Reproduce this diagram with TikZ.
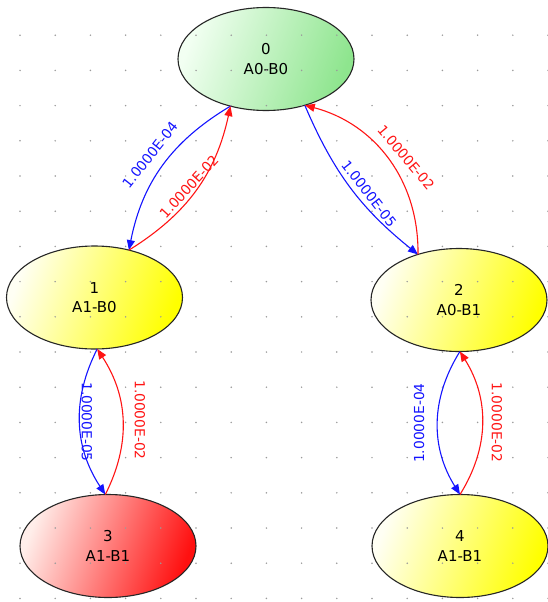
\documentclass[tikz,border=0pt]{standalone}
\usepackage{fontspec}
\setmainfont{DejaVu Sans}
\usetikzlibrary{shapes.geometric,arrows.meta}

\definecolor{stategreen}{HTML}{8EE58E}
\definecolor{stategreenlt}{HTML}{F2FFF2}
\definecolor{stateyellow}{HTML}{FFFF00}
\definecolor{stateyellowlt}{HTML}{FFFFF4}
\definecolor{statered}{HTML}{FF1010}
\definecolor{stateredlt}{HTML}{FFEEEA}
\definecolor{ratefail}{HTML}{1414FF}
\definecolor{raterepair}{HTML}{FF1414}
\definecolor{griddot}{HTML}{9A9A9A}

\tikzset{
  state/.style={ellipse, draw=black!85, line width=1.1pt, inner sep=0pt, outer sep=0pt,
    minimum width=176pt, minimum height=103pt, align=center,
    font=\fontsize{15}{19.5}\selectfont},
  okstate/.style={state, left color=stategreenlt, right color=stategreen, shading angle=70},
  warnstate/.style={state, left color=stateyellowlt, right color=stateyellow, shading angle=70},
  failstate/.style={state, left color=stateredlt, right color=statered, shading angle=70},
  failrate/.style={draw=ratefail, line width=1.1pt, -{Triangle[length=10pt,width=8pt]}},
  repairrate/.style={draw=raterepair, line width=1.1pt, -{Triangle[length=10pt,width=8pt]}},
  ratelabel/.style={inner sep=0pt, font=\fontsize{13.8}{14}\selectfont},
  faillabel/.style={ratelabel, text=ratefail},
  repairlabel/.style={ratelabel, text=raterepair},
}

\begin{document}
\begin{tikzpicture}[x=1pt,y=1pt]
\useasboundingbox (0,0) rectangle (547,-602);
\fill[white] (0,0) rectangle (547,-602);

% states
\node[okstate]   (n0) at (266,-59)   {0\\A0-B0};
\node[warnstate] (n1) at (94.5,-297.5) {1\\A1-B0};
\node[warnstate] (n2) at (459,-300)  {2\\A0-B1};
\node[failstate] (n3) at (108,-546)  {3\\A1-B1};
\node[warnstate] (n4) at (460,-546)  {4\\A1-B1};

% dotted background grid
\foreach \i in {0,...,15}
  \foreach \j in {1,...,17}
    \fill[griddot] (20+35.2*\i,-35.2*\j) circle (0.85pt);

% transitions
\draw[failrate]   (n0.233) to[bend right=24] (n1.54);
\draw[repairrate] (n1.54)  to[bend right=23] (n0.233);
\draw[failrate]   (n0.310) to[bend right=14] (n2.132);
\draw[repairrate] (n2.132) to[bend right=38] (n0.310);
\draw[failrate]   (n1.273) to[bend right=30] (n3.93);
\draw[repairrate] (n3.93)  to[bend right=30] (n1.273);
\draw[failrate]   (n2.271) to[bend right=32] (n4.90);
\draw[repairrate] (n4.90)  to[bend right=32] (n2.271);

% transition rates
\node[faillabel,   rotate=51.5] (r01) at (150,-155) {1.0000E-04};
\node[repairlabel, rotate=47.6] (r10) at (189,-186.5) {1.0000E-02};
\node[faillabel,   rotate=-52]  (r02) at (369,-193.5) {1.0000E-05};
\node[repairlabel, rotate=-50]  (r20) at (406,-157.5) {1.0000E-02};
\node[faillabel,   rotate=-90]  (r13) at (87,-422) {1.0000E-05};
\node[repairlabel, rotate=-90]  (r31) at (140,-420) {1.0000E-02};
\node[faillabel,   rotate=90]   (r24) at (419,-423) {1.0000E-04};
\node[repairlabel, rotate=-90]  (r42) at (497,-422.5) {1.0000E-02};
\end{tikzpicture}
\end{document}
